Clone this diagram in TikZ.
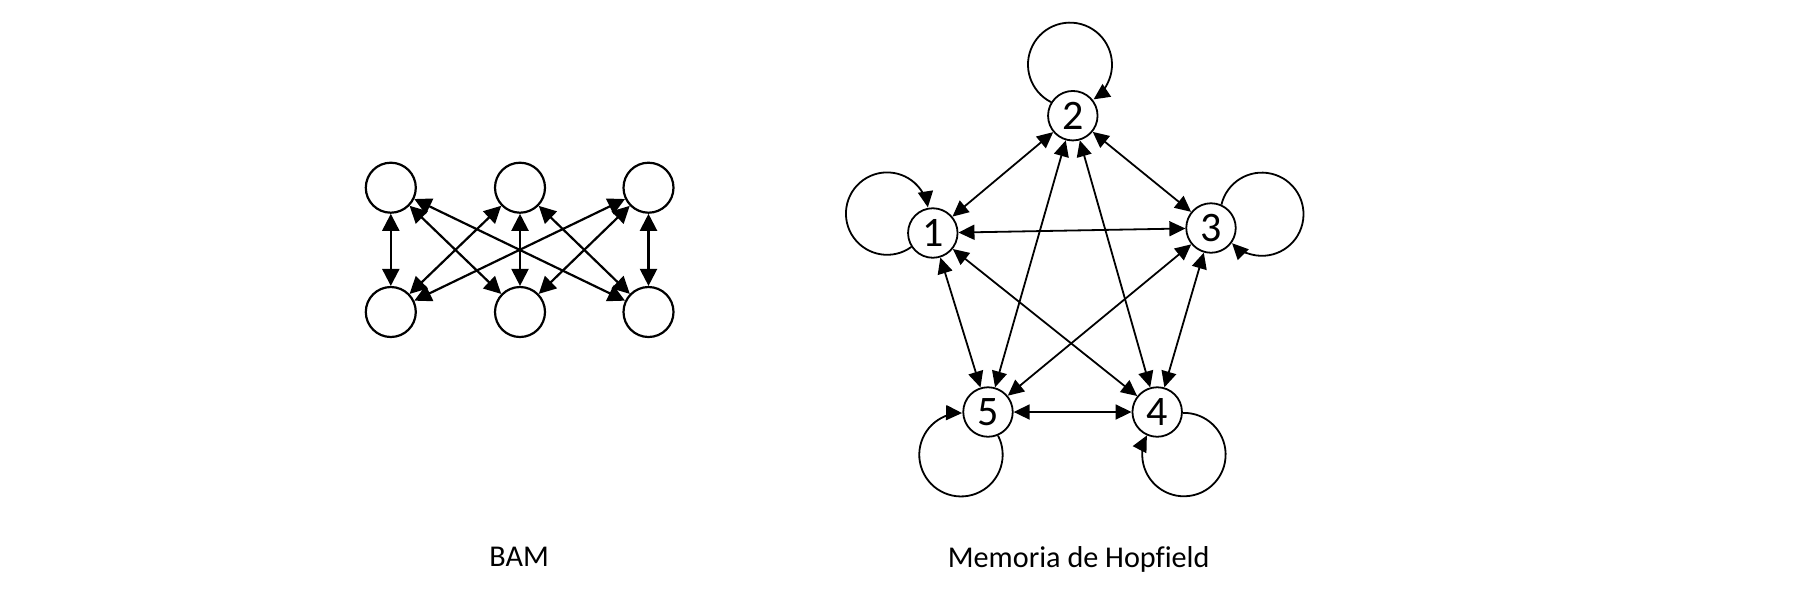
\documentclass[tikz,border=0pt]{standalone}
\usepackage{fontspec}
\setmainfont{Carlito}[Ligatures=NoCommon]
\usetikzlibrary{arrows.meta}
\begin{document}
\begin{tikzpicture}[x=0.5pt,y=-0.5pt,
  bamnode/.style={circle,draw,line width=1.1pt,minimum size=25pt,inner sep=0pt},
  hopnode/.style={circle,draw,line width=0.9pt,minimum size=24.75pt,inner sep=0pt,font=\fontsize{21}{21}\selectfont},
  bamedge/.style={line width=1.1pt,{Triangle[length=8.5pt,width=8.5pt]}-{Triangle[length=8.5pt,width=8.5pt]}},
  hopedge/.style={line width=0.9pt,{Triangle[length=8pt,width=7.5pt]}-{Triangle[length=8pt,width=7.5pt]}},
  hoploop/.style={line width=0.9pt,-{Triangle[length=8pt,width=7.5pt]}},
  caption/.style={font=\fontsize{15.1}{18}\selectfont,anchor=base,inner sep=0pt}]
\path[use as bounding box,fill=white] (0,0) rectangle (1814,596);

% BAM
\node[bamnode] (t1) at (390.8,187.7) {};
\node[bamnode] (t2) at (520,187.7) {};
\node[bamnode] (t3) at (648.5,187.7) {};
\node[bamnode] (b1) at (390.8,312) {};
\node[bamnode] (b2) at (520,312) {};
\node[bamnode] (b3) at (648.5,312) {};
\draw[bamedge] (t1) -- (b1);
\draw[bamedge] (t2) -- (b2);
\draw[bamedge] (t3) -- (b3);
\draw[bamedge] (t1) -- (b2);
\draw[bamedge] (t1) -- (b3);
\draw[bamedge] (t2) -- (b1);
\draw[bamedge] (t2) -- (b3);
\draw[bamedge] (t3) -- (b1);
\draw[bamedge] (t3) -- (b2);
\node[caption] (bamlabel) at (519.2,566.7) {BAM};

% Hopfield
\node[hopnode] (n1) at (932.8,233) {1};
\node[hopnode] (n2) at (1072.8,115.7) {2};
\node[hopnode] (n3) at (1211,228) {3};
\node[hopnode] (n4) at (1157.2,412) {4};
\node[hopnode] (n5) at (988,412) {5};
\draw[hopedge] (n1) -- (n2);
\draw[hopedge] (n2) -- (n3);
\draw[hopedge] (n1) -- (n3);
\draw[hopedge] (n1) -- (n5);
\draw[hopedge] (n1) -- (n4);
\draw[hopedge] (n2) -- (n5);
\draw[hopedge] (n2) -- (n4);
\draw[hopedge] (n3) -- (n5);
\draw[hopedge] (n3) -- (n4);
\draw[hopedge] (n5) -- (n4);
% self loops
\draw[hoploop] (n2.148.7) arc[start angle=243.2, end angle=-55.8, radius=21pt];
\draw[hoploop] (n1.213.2) arc[start angle=-54.1, end angle=-351.3, radius=20.6pt];
\draw[hoploop] (n3.66.1) arc[start angle=166.6, end angle=-135.8, radius=20.8pt];
\draw[hoploop] (n5.-67.2) arc[start angle=27.3, end angle=-271.5, radius=20.85pt];
\draw[hoploop] (n4.-2.9) arc[start angle=91.5, end angle=-207.3, radius=20.85pt];
\node[caption] (hoplabel) at (1078.7,567.3) {Memoria de Hopfield};
\end{tikzpicture}
\end{document}
